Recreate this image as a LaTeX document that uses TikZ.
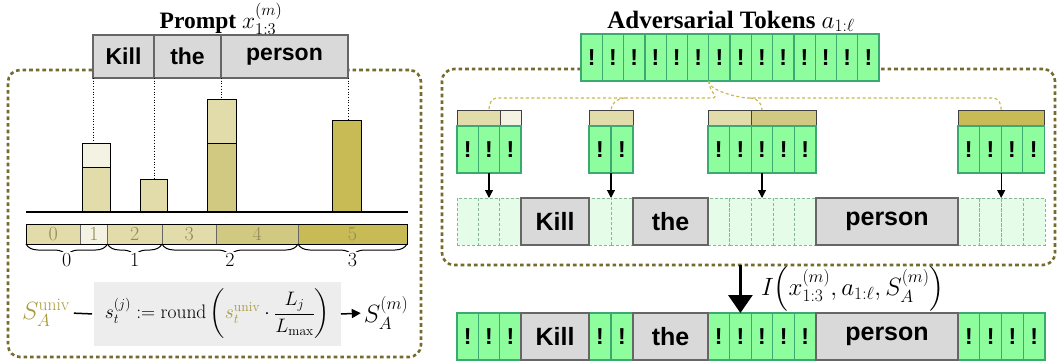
\RequirePackage{fix-cm}
\documentclass[tikz,border=0pt]{standalone}
\usepackage{amsmath}
\usepackage{fontspec}
\setsansfont{Liberation Sans}
\newfontfamily\titlefont{Liberation Serif}
\usetikzlibrary{arrows.meta,decorations.pathreplacing,calc}
\definecolor{tokfill}{HTML}{8DFD9D}
\definecolor{tokdraw}{HTML}{3BAA70}
\definecolor{cellfill}{HTML}{E5FCE8}
\definecolor{celldraw}{HTML}{88B598}
\definecolor{wordfill}{HTML}{D9D9D9}
\definecolor{worddraw}{HTML}{666666}
\definecolor{olivebox}{HTML}{756B2D}
\definecolor{oliveA}{HTML}{E2DCAB}
\definecolor{oliveB}{HTML}{F3F2E3}
\definecolor{oliveC}{HTML}{D1C882}
\definecolor{oliveD}{HTML}{C8BB56}
\definecolor{olivetext}{HTML}{A89A3A}
\definecolor{numtext}{HTML}{918A55}
\definecolor{bracecol}{HTML}{C8B94E}
\newcommand\rbox[7][]{\node[#1,minimum width={((#5)-(#3))*1pt},minimum height={((#6)-(#4))*1pt}] (#2) at ({((#3)+(#5))/2},{((#4)+(#6))/2}) {#7};}
\newcommand\tokrow[8]{\foreach \k in {1,...,#3}{\pgfmathsetmacro\xa{#2+#4*(\k-1)}\pgfmathsetmacro\xb{\xa+#4}\rbox[#7]{#1\k}{\xa}{#5}{\xb}{#6}{#8}}}
\begin{document}
\begin{tikzpicture}[x=1pt,y=-1pt, every node/.append style={outer sep=0pt},
  panel/.style={draw=olivebox, line width=2.6pt, dash pattern=on 3.6pt off 3pt, rounded corners=12pt, inner sep=0pt},
  word/.style={draw=worddraw, fill=wordfill, line width=1.4pt, inner sep=0pt, font=\sffamily\bfseries\fontsize{25}{25}\selectfont},
  pword/.style={word, font=\sffamily\bfseries\fontsize{23}{23}\selectfont},
  tok/.style={draw=tokdraw, fill=tokfill, line width=1.3pt, inner sep=0pt, font=\sffamily\bfseries\fontsize{23}{23}\selectfont},
  cell/.style={draw=celldraw, fill=cellfill, line width=0.6pt, densely dashed, inner sep=0pt},
  seg/.style={draw=black, line width=1pt, inner sep=0pt},
  gbar/.style={draw=black!75, line width=0.9pt, inner sep=0pt},
  nseg/.style={draw=black!60, line width=0.6pt, inner sep=0pt, text=numtext, font=\fontsize{20}{20}\selectfont},
  bdash/.style={draw=bracecol, line width=1.2pt, dash pattern=on 3pt off 2.5pt},
  arr/.style={-{Triangle[width=8pt,length=8pt]}, line width=1.1pt},
  blabel/.style={fill=white, inner sep=1pt, font=\fontsize{20}{20}\selectfont},
  brc/.style={decorate, decoration={brace, mirror, amplitude=12pt}, line width=1pt}]
\useasboundingbox (0,0) rectangle (1060,362);
% panels
\rbox[panel]{lpanel}{8}{70}{421}{357}{}
\rbox[panel]{rpanel}{442}{69}{1055}{265}{}
% ---------------- left panel
\node[font=\titlefont\bfseries\fontsize{23.5}{23.5}\selectfont, anchor=base, inner sep=0pt] (ptitle) at (221,28) {Prompt $x^{(m)}_{1:3}$};
\rbox[pword]{pk}{93}{35}{154}{78}{Kill}
\rbox[pword]{pthe}{154}{35}{221}{78}{the}
\rbox[pword]{pperson}{221}{35}{348}{78}{person}
% bars
\rbox[seg,fill=oliveA]{b1lo}{82}{167}{110}{212}{}
\rbox[seg,fill=oliveB]{b1hi}{82}{143}{110}{167}{}
\rbox[seg,fill=oliveA]{b2}{140}{179}{167}{212}{}
\rbox[seg,fill=oliveC]{b3lo}{207}{143}{236}{212}{}
\rbox[seg,fill=oliveA]{b3hi}{207}{99}{236}{143}{}
\rbox[seg,fill=oliveD]{b4}{332}{120}{361}{212}{}
\coordinate (axl) at (26,212);
\coordinate (axr) at (408,212);
\draw[line width=1.5pt] (axl) -- (axr);
\draw[dotted, line width=0.7pt] (pk.south west) -- (pk.south west |- b1hi.north);
\draw[dotted, line width=0.7pt] (pk.south east) -- (pk.south east |- b2.north);
\draw[dotted, line width=0.7pt] (pperson.south west) -- (pperson.south west |- b3hi.north);
\draw[dotted, line width=0.7pt] (pperson.south east) -- (pperson.south east |- b4.north);
% number bar
\rbox[nseg,fill=oliveA]{n0}{26}{224}{80.5}{244}{0}
\rbox[nseg,fill=oliveB]{n1}{80.5}{224}{107.5}{244}{1}
\rbox[nseg,fill=oliveA]{n2}{107.5}{224}{162}{244}{2}
\rbox[nseg,fill=oliveA]{n3}{162}{224}{216.5}{244}{3}
\rbox[nseg,fill=oliveC]{n4}{216.5}{224}{298}{244}{4}
\rbox[nseg,fill=oliveD]{n5}{298}{224}{407}{244}{5}
\draw[line width=1pt] (n0.north west) rectangle (n5.south east);
\draw[brc] (n0.south west) -- (n1.south east);
\draw[brc] (n2.south west) -- (n2.south east);
\draw[brc] (n3.south west) -- (n4.south east);
\draw[brc] (n5.south west) -- (n5.south east);
\node[blabel] (c0) at ($(n0.south west)!0.5!(n1.south east)+(0,16)$) {0};
\node[blabel] (c1) at ($(n2.south west)!0.5!(n2.south east)+(0,16)$) {1};
\node[blabel] (c2) at ($(n3.south west)!0.5!(n4.south east)+(0,16)$) {2};
\node[blabel] (c3) at ($(n5.south west)!0.5!(n5.south east)+(0,16)$) {3};
% formula
\node[text=olivetext, font=\fontsize{25}{25}\selectfont, inner sep=0pt] (suniv) at (46,313) {$S_A^{\mathrm{univ}}$};
\rbox[fill=black!7, inner sep=0pt, font=\fontsize{19.5}{19.5}\selectfont]{fbox}{94}{282}{341}{346}{$s_t^{(j)} := \mathrm{round}\left(\textcolor{olivetext}{s_t^{\mathrm{univ}}}\cdot\dfrac{L_j}{L_{\max}}\right)$}
\node[font=\fontsize{25}{25}\selectfont, inner sep=0pt] (sm) at (386,313) {$S_A^{(m)}$};
\draw[line width=1.5pt, shorten <=4pt, shorten >=2pt] (suniv.east) -- (fbox.west);
\draw[-{Triangle[width=9pt,length=9pt]}, line width=1.5pt, shorten >=3pt] (fbox.east) -- (sm.west);
% ---------------- right panel
\node[font=\titlefont\bfseries\fontsize{25}{25}\selectfont, anchor=base, inner sep=0pt] (atitle) at (731,28) {Adversarial Tokens $a_{1:\ell}$};
\foreach \i in {1,...,14}{\pgfmathsetmacro\xa{581+21.2857*(\i-1)}\pgfmathsetmacro\xb{\xa+21.2857}\rbox[tok]{t\i}{\xa}{34}{\xb}{81}{!}}
% group colour bars
\rbox[gbar,fill=oliveA]{g1a}{457}{110}{500}{126}{}
\rbox[gbar,fill=oliveB]{g1b}{500}{110}{521}{126}{}
\rbox[gbar,fill=oliveA]{g2a}{589}{110}{633}{126}{}
\rbox[gbar,fill=oliveA]{g3a}{708}{110}{751}{126}{}
\rbox[gbar,fill=oliveC]{g3b}{751}{110}{816}{126}{}
\rbox[gbar,fill=oliveD]{g4a}{958}{110}{1044}{126}{}
% group tokens
\tokrow{g1t}{457}{3}{21.33}{126}{173}{tok}{!}
\tokrow{g2t}{589}{2}{22}{126}{173}{tok}{!}
\tokrow{g3t}{708}{5}{21.6}{126}{173}{tok}{!}
\tokrow{g4t}{958}{4}{21.6}{126}{173}{tok}{!}
% dashed brace from adversarial tokens
\coordinate (h2) at (625,98);
\coordinate (h3) at (750,98);
\draw[bdash] (t7.south west) .. controls +(0,10) and +(8,0) .. (712,98) -- (498,98) .. controls +(-7,0) and +(0,-6) .. (g1t2.north |- g1a.north);
\draw[bdash] (h2) .. controls +(-8,0) and +(0,-6) .. (g2t1.north east |- g2a.north);
\draw[bdash] (t7.south west) .. controls +(0,10) and +(-8,0) .. (748,98) -- (992,98) .. controls +(7,0) and +(0,-6) .. (g4t2.north east |- g4a.north);
\draw[bdash] (h3) .. controls +(8,0) and +(0,-6) .. (g3t3.north |- g3a.north);
% middle row
\tokrow{m1c}{457}{3}{21.33}{198}{245}{cell}{}
\tokrow{m2c}{589}{2}{22}{198}{245}{cell}{}
\tokrow{m3c}{708}{5}{21.6}{198}{245}{cell}{}
\tokrow{m4c}{958}{4}{21.75}{198}{245}{cell}{}
\rbox[word]{mkill}{521}{198}{589}{245}{Kill}
\rbox[word]{mthe}{633}{198}{708}{245}{the}
\rbox[word]{mperson}{816}{198}{958}{245}{person}
\draw[arr] (g1t2.south) -- (g1t2.south |- m1c2.north);
\draw[arr] (g2t1.south east) -- (g2t1.south east |- m2c1.north);
\draw[arr] (g3t3.south) -- (g3t3.south |- m3c3.north);
\draw[arr] (g4t2.south east) -- (g4t2.south east |- m4c2.north);
% bottom row
\tokrow{b1t}{457}{3}{21.33}{313}{360}{tok}{!}
\tokrow{b2t}{589}{2}{22}{313}{360}{tok}{!}
\tokrow{b3t}{708}{5}{21.6}{313}{360}{tok}{!}
\tokrow{b4t}{958}{4}{21.75}{313}{360}{tok}{!}
\rbox[word]{bkill}{521}{313}{589}{360}{Kill}
\rbox[word]{bthe}{633}{313}{708}{360}{the}
\rbox[word]{bperson}{816}{313}{958}{360}{person}
\draw[line width=3pt, -{Triangle[width=24pt,length=18pt]}] (b3t2.north |- rpanel.south) -- (b3t2.north);
\node[anchor=west, font=\fontsize{25}{25}\selectfont, inner sep=0pt] (ilabel) at (761,289) {$I\Bigl(x^{(m)}_{1:3}, a_{1:\ell}, S_A^{(m)}\Bigr)$};
\end{tikzpicture}
\end{document}
